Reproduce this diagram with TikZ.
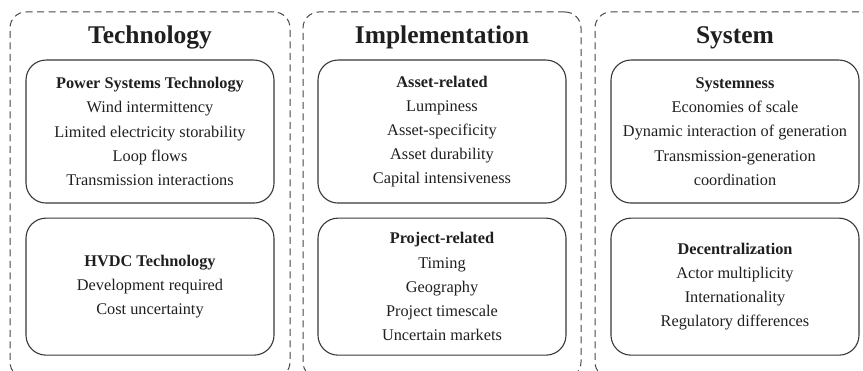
\documentclass[tikz,border=0pt]{standalone}
\usepackage{fontspec}
\setmainfont{Liberation Serif}
\usetikzlibrary{positioning}

\begin{document}
\begin{tikzpicture}[%
    x=1pt, y=1pt,
    node distance=14pt,
    column/.style={draw=black!72, dash pattern=on 7pt off 4.5pt, line width=1pt,
      rounded corners=16pt, minimum height=366pt, inner sep=0pt},
    heading/.style={font=\fontsize{25.5}{30}\selectfont\bfseries, text=black!88,
      inner sep=0pt, anchor=base},
    factor/.style={draw=black!78, line width=1.1pt, rounded corners=20pt,
      minimum width=248pt, align=center, text=black!88, inner sep=0pt,
      font=\fontsize{16.3}{24.2}\selectfont},
  ]
    \useasboundingbox (0,0) rectangle (863,371);
    \clip (0,0) rectangle (863,371);

    % dashed columns
    \node[column, minimum width=280pt] (tech) at (150,176) {};
    \node[column, minimum width=278pt] (impl) at (442,176) {};
    \node[column, minimum width=280pt] (sys)  at (735,176) {};

    \node[heading] (techhead) at ([yshift=-32pt]tech.north) {Technology};
    \node[heading] (implhead) at ([yshift=-32pt]impl.north) {Implementation};
    \node[heading] (syshead)  at ([yshift=-32pt]sys.north)  {System};

    % technology
    \node[factor, minimum height=143pt, below=48pt of tech.north] (pst)
      {\textbf{Power Systems Technology}\\Wind intermittency\\Limited electricity storability\\Loop flows\\Transmission interactions};
    \node[factor, minimum height=137pt, below=of pst] (hvdc)
      {\textbf{HVDC Technology}\\Development required\\Cost uncertainty};

    % implementation
    \node[factor, minimum height=143pt, below=48pt of impl.north] (asset)
      {\textbf{Asset-related}\\Lumpiness\\Asset-specificity\\Asset durability\\Capital intensiveness};
    \node[factor, minimum height=137pt, below=of asset] (project)
      {\textbf{Project-related}\\Timing\\Geography\\Project timescale\\Uncertain markets};

    % system
    \node[factor, minimum height=143pt, below=48pt of sys.north] (systemness)
      {\textbf{Systemness}\\Economies of scale\\Dynamic interaction of generation\\Transmission-generation\\coordination};
    \node[factor, minimum height=137pt, below=of systemness] (decentral)
      {\textbf{Decentralization}\\Actor multiplicity\\Internationality\\Regulatory differences};
\end{tikzpicture}
\end{document}
